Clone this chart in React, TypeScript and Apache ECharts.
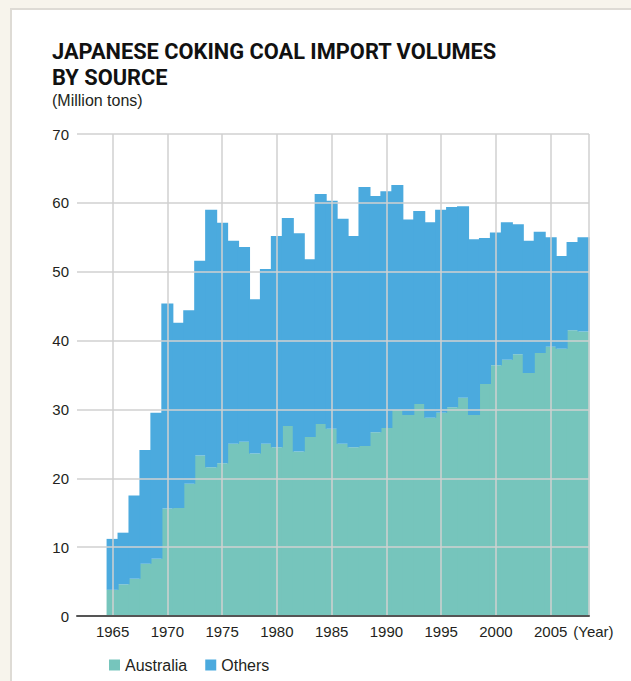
import React, { useEffect, useRef } from "react";
import * as echarts from "echarts";

// Fiscal years on the horizontal axis (one bar per year)
const years: number[] = [
  1965, 1966, 1967, 1968, 1969, 1970, 1971, 1972, 1973, 1974,
  1975, 1976, 1977, 1978, 1979, 1980, 1981, 1982, 1983, 1984,
  1985, 1986, 1987, 1988, 1989, 1990, 1991, 1992, 1993, 1994,
  1995, 1996, 1997, 1998, 1999, 2000, 2001, 2002, 2003, 2004,
  2005, 2006, 2007, 2008,
];

// Imports from Australia (million tons)
const australia: number[] = [
  3.8, 4.6, 5.4, 7.6, 8.3, 15.6, 15.7, 19.2, 23.3, 21.6,
  22.2, 25.0, 25.3, 23.6, 25.0, 24.5, 27.6, 23.9, 26.0, 27.9,
  27.2, 25.0, 24.5, 24.7, 26.7, 27.3, 29.9, 29.2, 30.8, 28.8,
  29.5, 30.3, 31.7, 29.2, 33.7, 36.4, 37.2, 38.0, 35.3, 38.2,
  39.1, 38.8, 41.5, 41.3,
];

// Imports from all other sources (million tons)
const others: number[] = [
  7.4, 7.5, 12.1, 16.5, 21.2, 29.8, 26.9, 25.2, 28.3, 37.4,
  34.9, 29.5, 28.3, 22.4, 25.4, 30.7, 30.2, 31.7, 25.8, 33.4,
  33.1, 32.7, 30.7, 37.6, 34.3, 34.4, 32.7, 28.4, 28.0, 28.4,
  29.5, 29.1, 27.8, 25.5, 21.2, 19.3, 20.0, 18.9, 19.2, 17.6,
  15.9, 13.5, 12.8, 13.7,
];

const yTicks = { min: 0, max: 70, step: 10 };

const TEAL = "#76c5bc";
const BLUE = "#4baade";
const TEXT = "#231f20";
const GRID = "#d0d0d0";
const FONT = "'Liberation Sans', Arial, Helvetica, sans-serif";

export default function App() {
  const ref = useRef<HTMLDivElement>(null);

  useEffect(() => {
    if (!ref.current) return;
    const chart = echarts.init(ref.current, undefined, { renderer: "svg" });

    // Value first so that the stack is applied to the tonnage dimension.
    const rows = (vals: number[]) => years.map((y, i) => [vals[i], y]);

    const option: echarts.EChartsCoreOption = {
      animation: false,
      backgroundColor: "transparent",
      textStyle: { fontFamily: FONT },
      title: [
        {
          text: "JAPANESE COKING COAL IMPORT VOLUMES\nBY SOURCE",
          left: 52,
          top: 38,
          padding: 0,
          textStyle: {
            fontFamily: "Roboto, 'Liberation Sans', sans-serif",
            fontWeight: "bold",
            fontSize: 21.8,
            lineHeight: 26,
            color: "#111111",
          },
        },
        {
          text: "(Million tons)",
          left: 52,
          top: 92,
          padding: 0,
          textStyle: {
            fontFamily: FONT,
            fontWeight: "normal",
            fontSize: 16,
            color: TEXT,
          },
        },
      ],
      legend: {
        data: ["Australia", "Others"],
        left: 104,
        top: 652,
        itemWidth: 11,
        itemHeight: 11,
        itemGap: 18,
        icon: "rect",
        textStyle: { fontFamily: FONT, fontSize: 16, color: TEXT },
      },
      grid: { left: 77, right: 42, top: 134, bottom: 65, containLabel: false },
      xAxis: {
        type: "value",
        min: years[0] - 3.25,
        max: years[years.length - 1] + 0.5,
        splitNumber: 10,
        z: 5,
        name: "(Year)",
        nameLocation: "end",
        nameGap: -17,
        nameTextStyle: {
          fontFamily: FONT,
          fontSize: 15,
          color: TEXT,
          align: "left",
          verticalAlign: "top",
          padding: [8, 0, 0, 0],
        },
        axisLine: { show: true, lineStyle: { color: "#555555", width: 2 } },
        axisTick: { show: false },
        axisLabel: {
          margin: 8,
          fontFamily: FONT,
          fontSize: 15,
          color: TEXT,
          showMinLabel: false,
          showMaxLabel: false,
          formatter: (v: number) => (v % 5 === 0 ? String(v) : ""),
        },
        splitLine: {
          show: true,
          showMinLine: false,
          showMaxLine: true,
          lineStyle: { color: GRID, width: 1.5 },
        },
      },
      yAxis: {
        type: "value",
        min: yTicks.min,
        max: yTicks.max,
        interval: yTicks.step,
        z: 5,
        axisLine: { show: false },
        axisTick: { show: false },
        axisLabel: {
          margin: 8,
          fontFamily: FONT,
          fontSize: 15,
          color: TEXT,
          padding: [7, 0, 0, 0],
        },
        splitLine: { show: true, lineStyle: { color: GRID, width: 1.5 } },
      },
      series: [
        {
          name: "Australia",
          type: "bar",
          stack: "total",
          barWidth: "110%",
          encode: { x: 1, y: 0 },
          itemStyle: { color: TEAL, borderWidth: 0 },
          data: rows(australia),
        },
        {
          name: "Others",
          type: "bar",
          stack: "total",
          barWidth: "110%",
          encode: { x: 1, y: 0 },
          itemStyle: { color: BLUE, borderWidth: 0 },
          data: rows(others),
        },
      ],
    };

    chart.setOption(option);
    return () => chart.dispose();
  }, []);

  return (
    <div
      style={{
        position: "fixed",
        left: 0,
        top: 0,
        width: 631,
        height: 681,
        background: "#f7f4ec",
        overflow: "hidden",
      }}
    >
      <div
        style={{
          position: "absolute",
          left: 10,
          top: 8,
          width: 700,
          height: 760,
          background: "#ffffff",
          borderLeft: "2px solid #dedbd5",
          borderTop: "2px solid #dedbd5",
        }}
      />
      <div
        ref={ref}
        style={{ position: "absolute", left: 0, top: 0, width: 631, height: 681 }}
      />
    </div>
  );
}
